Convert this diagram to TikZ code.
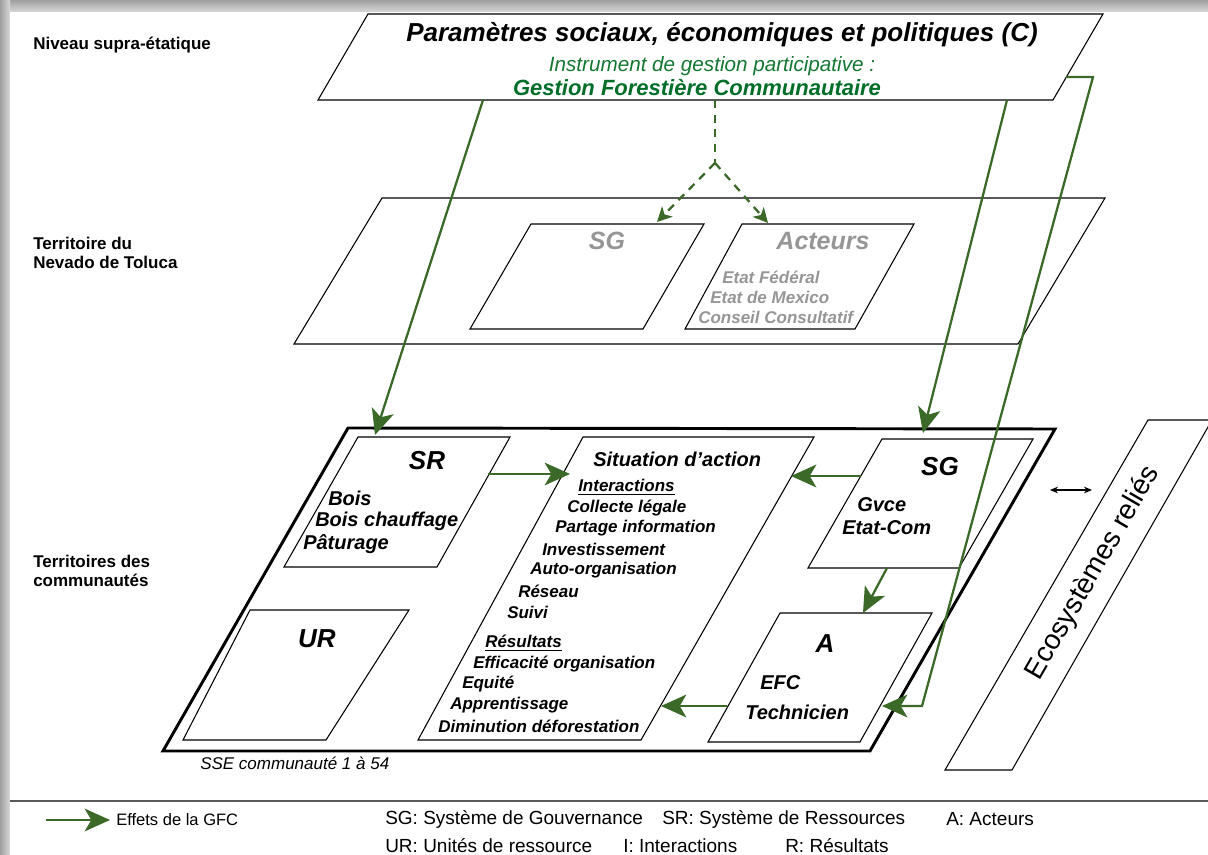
\documentclass[tikz,border=0pt]{standalone}
\usepackage{fontspec}
\setmainfont{Liberation Sans}
\usetikzlibrary{arrows.meta}
\definecolor{gline}{RGB}{58,105,40}
\definecolor{gtext}{RGB}{20,120,50}
\definecolor{gtextd}{RGB}{0,110,40}
\definecolor{gtxt}{RGB}{150,150,150}
\begin{document}
\begin{tikzpicture}[x=0.75pt,y=-0.75pt,
  lbl/.style={anchor=west,inner sep=0pt,font=\fontsize{12.75}{15}\selectfont\bfseries},
  thinbox/.style={draw=black,line width=0.8pt,line join=miter},
  thickbox/.style={draw=black,line width=2.2pt,line join=miter},
  garrow/.style={draw=gline,line width=1.7pt,-{Stealth[length=19pt,width=17pt,inset=5pt,color=gline]}},
  gdash/.style={draw=gline,line width=1.7pt,dash pattern=on 6pt off 5pt},
  gdasharrow/.style={gdash,-{Stealth[length=11pt,width=11pt,inset=3pt,color=gline]}},
  hdr/.style={inner sep=0pt,font=\fontsize{19.5}{22}\selectfont\bfseries\itshape},
  itm/.style={anchor=west,inner sep=0pt,font=\fontsize{15}{17}\selectfont\bfseries\itshape},
  sai/.style={anchor=west,inner sep=0pt,font=\fontsize{12.75}{15}\selectfont\bfseries\itshape},
  gvi/.style={anchor=west,inner sep=0pt,font=\fontsize{15}{18}\selectfont\bfseries\itshape},
  grayhdr/.style={inner sep=0pt,text=gtxt,font=\fontsize{18.75}{21}\selectfont\bfseries\itshape},
  grayitm/.style={anchor=west,inner sep=0pt,text=gtxt,font=\fontsize{12.75}{15}\selectfont\bfseries\itshape},
  leg/.style={anchor=west,inner sep=0pt,font=\fontsize{14.25}{16}\selectfont}
]
\useasboundingbox (0,0) rectangle (1208,855);
% shadow frame
\shade[top color=gray!75,bottom color=gray!30] (0,0) rectangle (1208,12);
\shade[left color=gray!75,right color=gray!30] (0,0) rectangle (10,855);
\fill[white] (10,12) rectangle (1208,855);

% left labels
\node[lbl] (n1) at (33,45) {Niveau supra-étatique};
\node[lbl] (n2a) at (33,243) {Territoire du};
\node[lbl] (n2b) at (33,262) {Nevado de Toluca};
\node[lbl] (n3a) at (33,561) {Territoires des};
\node[lbl] (n3b) at (33,580) {communautés};

% top level
\draw[thinbox] (368,14) -- (1103,14) -- (1053,100) -- (318,100) -- cycle;
\node[inner sep=0pt,font=\fontsize{19.5}{22}\selectfont\bfseries\itshape] (title) at (722,35) {Paramètres sociaux, économiques et politiques (C)};
\node[inner sep=0pt,text=gtext,font=\fontsize{15.5}{17}\selectfont\itshape] (instr) at (712,66) {Instrument de gestion participative :};
\node[inner sep=0pt,text=gtextd,font=\fontsize{16.5}{19}\selectfont\bfseries\itshape] (gfc) at (697,88) {Gestion Forestière Communautaire};

% middle level
\draw[thinbox] (382,198) -- (1105,198) -- (1018,344) -- (294,344) -- cycle;
\draw[thinbox] (531,224) -- (704,224) -- (643,329) -- (470,329) -- cycle;
\draw[thinbox] (742,224) -- (914,224) -- (855,329) -- (685,329) -- cycle;
\node[grayhdr] (sgm) at (607,241) {SG};
\node[grayhdr] (act) at (823,241) {Acteurs};
\node[grayitm] (ef) at (722,277) {Etat Fédéral};
\node[grayitm] (em) at (710,297) {Etat de Mexico};
\node[grayitm] (cc) at (698,317) {Conseil Consultatif};

% bottom level
\draw[thickbox] (348,428) -- (1055,429) -- (870,751) -- (163,751) -- cycle;
\draw[thinbox] (358,437) -- (510,437) -- (437,567) -- (284,567) -- cycle;
\draw[thinbox] (250,610) -- (409,610) -- (326,740) -- (183,740) -- cycle;
\draw[thinbox] (583,437) -- (814,437) -- (641,740) -- (418,740) -- cycle;
\draw[thinbox] (882,439) -- (1033,439) -- (959,568) -- (808,568) -- cycle;
\draw[thinbox] (780,613) -- (932,613) -- (860,742) -- (708,742) -- cycle;
\draw[thinbox] (1148,420) -- (1212,420) -- (1012,770) -- (945,770) -- cycle;

\node[hdr] (sr) at (427,461) {SR};
\node[hdr] (ur) at (317,639) {UR};
\node[hdr] (sgb) at (940,467) {SG};
\node[hdr] (ab) at (825,644) {A};
\node[itm] (bois) at (328,498) {Bois};
\node[itm] (boisc) at (315,521) {Bois chauffage};
\node[itm] (patu) at (303,544) {Pâturage};
\node[itm] (sit) at (593,459) {Situation d'action};
\node[sai] (inter) at (578,487) {\underline{Interactions}};
\node[sai] (i1) at (567,508) {Collecte légale};
\node[sai] (i2) at (555,528) {Partage information};
\node[sai] (i3) at (542,549) {Investissement};
\node[sai] (i4) at (530,570) {Auto-organisation};
\node[sai] (i5) at (518,591) {Réseau};
\node[sai] (i6) at (507,612) {Suivi};
\node[sai] (res) at (485,643) {\underline{Résultats}};
\node[sai] (r1) at (473,664) {Efficacité organisation};
\node[sai] (r2) at (462,684) {Equité};
\node[sai] (r3) at (450,705) {Apprentissage};
\node[sai] (r4) at (438,726) {Diminution déforestation};
\node[gvi] (gv1) at (857,505) {Gvce};
\node[gvi] (gv2) at (842,528) {Etat-Com};
\node[gvi] (efc) at (760,683) {EFC};
\node[gvi] (tech) at (745,712) {Technicien};
\node[anchor=west,inner sep=0pt,font=\fontsize{12.75}{15}\selectfont\itshape] (sse) at (200,763) {SSE communauté 1 à 54};
\node[inner sep=0pt,rotate=60,font=\fontsize{21}{24}\selectfont] (eco) at (1093,573) {Ecosystèmes reliés};

% connector coordinates
\coordinate (d0) at (715,100);
\coordinate (dj) at (715,163);
\coordinate (dsg) at (657,222);
\coordinate (dac) at (768,223);
\coordinate (gl0) at (483,100);
\coordinate (gl1) at (375,435);
\coordinate (gr0) at (1007,100);
\coordinate (gr1) at (923,433);
\coordinate (gb0) at (1066,77);
\coordinate (gb1) at (1093,77);
\coordinate (gb2) at (922,706);
\coordinate (gb3) at (882,706);
\coordinate (a1s) at (488,474);
\coordinate (a1e) at (570,474);
\coordinate (a2s) at (861,476);
\coordinate (a2e) at (791,476);
\coordinate (a3s) at (887,568);
\coordinate (a3e) at (863,613);
\coordinate (a4s) at (727,706);
\coordinate (a4e) at (661,706);
\coordinate (da1) at (1050,490);
\coordinate (da2) at (1092,490);

% dashed connectors
\draw[gdash] (d0) -- (dj);
\draw[gdasharrow] (dj) -- (dsg);
\draw[gdasharrow] (dj) -- (dac);

% green effects
\draw[garrow] (gl0) -- (gl1);
\draw[garrow] (gr0) -- (gr1);
\draw[garrow] (gb0) -- (gb1) -- (gb2) -- (gb3);
\draw[garrow] (a1s) -- (a1e);
\draw[garrow] (a2s) -- (a2e);
\draw[garrow] (a3s) -- (a3e);
\draw[garrow] (a4s) -- (a4e);
\draw[line width=0.8pt,{Stealth[length=6pt,width=5pt]}-{Stealth[length=6pt,width=5pt]}] (da1) -- (da2);

% legend
\coordinate (sepL) at (10,801);
\coordinate (sepR) at (1208,801);
\draw[line width=1.5pt,draw=gray!70!black] (sepL) -- (sepR);
\coordinate (lg0) at (46,820);
\coordinate (lg1) at (110,820);
\draw[garrow] (lg0) -- (lg1);
\node[anchor=west,inner sep=0pt,font=\fontsize{12.4}{14}\selectfont] (legf) at (116,820) {Effets de la GFC};
\node[leg] (l1) at (385,819) {SG: Système de Gouvernance};
\node[leg] (l2) at (662,819) {SR: Système de Ressources};
\node[leg] (l3) at (946,819) {A: Acteurs};
\node[leg] (l4) at (385,846) {UR: Unités de ressource};
\node[leg] (l5) at (623,846) {I: Interactions};
\node[leg] (l6) at (785,846) {R: Résultats};
\end{tikzpicture}
\end{document}
